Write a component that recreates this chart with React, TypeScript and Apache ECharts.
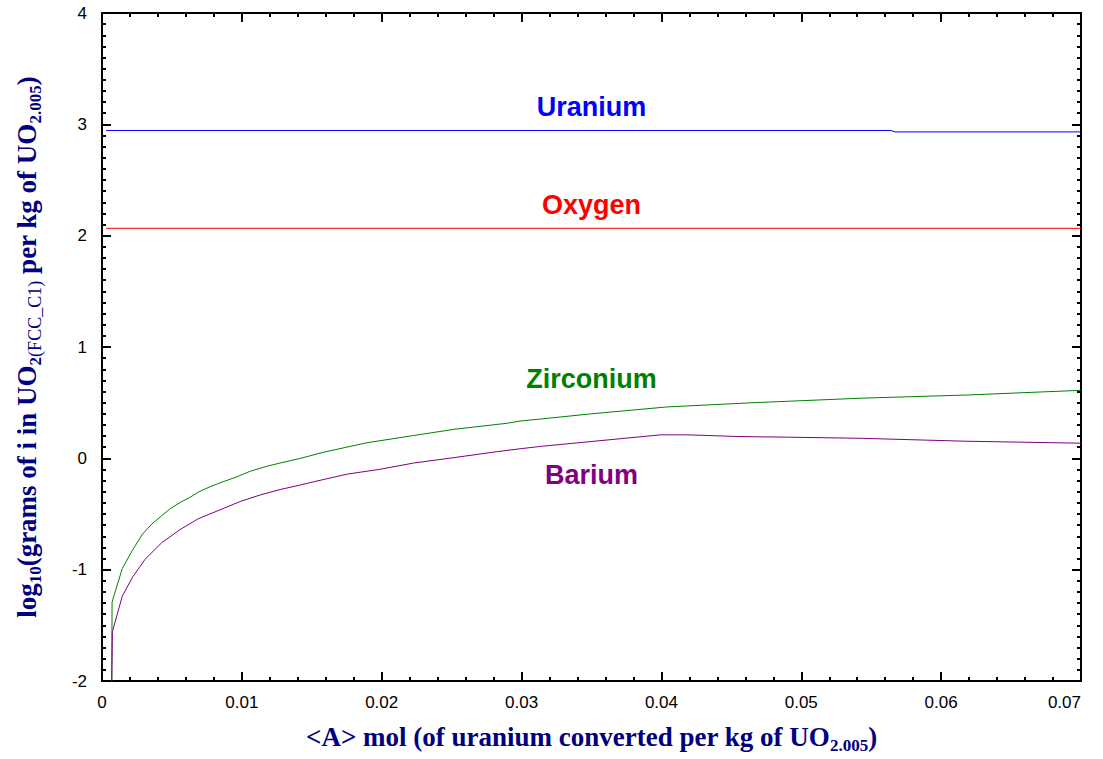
import React, { useEffect, useRef } from "react";
import * as echarts from "echarts";

// x values: mol of uranium converted per kg of UO2.005
const uraniumX = [0.0003, 0.0564, 0.0567, 0.07];
const uraniumY = [2.945, 2.945, 2.932, 2.932];

const oxygenX = [0.0003, 0.07];
const oxygenY = [2.066, 2.066];

const zirconiumX = [
  0.0007, 0.00072, 0.00145, 0.0022, 0.0029, 0.00356, 0.00422, 0.00487, 0.00558,
  0.00625, 0.00694, 0.00773, 0.00845, 0.00964, 0.0106, 0.0118, 0.0128, 0.0142,
  0.01584, 0.01895, 0.02229, 0.02515, 0.02897, 0.0299, 0.03135, 0.035, 0.04042,
  0.04662, 0.05426, 0.0619, 0.07,
];
const zirconiumY = [
  -2.0, -1.29, -0.99, -0.82, -0.68, -0.59, -0.52, -0.453, -0.397, -0.353, -0.3,
  -0.255, -0.22, -0.166, -0.116, -0.071, -0.04, 0.0, 0.055, 0.14, 0.205, 0.26,
  0.315, 0.335, 0.353, 0.4, 0.462, 0.5, 0.54, 0.569, 0.611,
];

const bariumX = [
  0.0007, 0.00074, 0.00145, 0.0022, 0.00308, 0.00427, 0.00558, 0.00689, 0.00845,
  0.00988, 0.01131, 0.01274, 0.01417, 0.01513, 0.01752, 0.0199, 0.02229, 0.02515,
  0.02801, 0.0299, 0.03135, 0.03994, 0.04185, 0.04543, 0.04901, 0.05426, 0.06166,
  0.07,
];
const bariumY = [
  -2.0, -1.558, -1.238, -1.064, -0.907, -0.758, -0.64, -0.542, -0.462, -0.388,
  -0.329, -0.28, -0.24, -0.211, -0.142, -0.098, -0.042, 0.006, 0.056, 0.086,
  0.107, 0.211, 0.211, 0.196, 0.19, 0.18, 0.154, 0.136,
];

// element names and where their names are written (data coordinates)
const labelNames = ["Uranium", "Oxygen", "Zirconium", "Barium"];
const labelX = [0.035, 0.035, 0.035, 0.035];
const labelY = [3.156, 2.276, 0.711, -0.151];
const colors = ["#0000ff", "#ff0000", "#008000", "#800080"];

const X_MIN = 0;
const X_MAX = 0.07;
const X_STEP = 0.01;
const Y_MIN = -2;
const Y_MAX = 4;
const Y_STEP = 1;

const pairs = (xs: number[], ys: number[]) => xs.map((x, i) => [x, ys[i]]);

const NAVY = "#000080";
const SERIF = "'Liberation Serif', 'Times New Roman', serif";
const SANS = "'Liberation Sans', Arial, sans-serif";

const titleRich = {
  m: { fontFamily: SERIF, fontWeight: "bold", fontSize: 27, color: NAVY, lineHeight: 34 },
  s: { fontFamily: SERIF, fontWeight: "bold", fontSize: 17, color: NAVY, verticalAlign: "bottom" },
  n: { fontFamily: SERIF, fontWeight: "normal", fontSize: 18, color: NAVY, verticalAlign: "bottom" },
};

const tickLine = { color: "#000", width: 2 };

const frameAxis = (showLabels: boolean, minorSplit: number) => ({
  axisLine: { show: true, onZero: false, lineStyle: { color: "#000", width: 2 } },
  axisTick: { show: true, inside: true, length: 9, lineStyle: tickLine },
  minorTick: { show: true, splitNumber: minorSplit, length: 4, lineStyle: tickLine },
  splitLine: { show: false },
  minorSplitLine: { show: false },
  axisLabel: {
    show: showLabels,
    color: "#000",
    fontFamily: SANS,
    fontSize: 17,
  },
});

export default function App() {
  const ref = useRef<HTMLDivElement>(null);

  useEffect(() => {
    document.body.style.margin = "0";
    if (!ref.current) return;
    const chart = echarts.init(ref.current, null, { renderer: "svg" });

    const xBase = { type: "value", min: X_MIN, max: X_MAX, interval: X_STEP };
    const yBase = { type: "value", min: Y_MIN, max: Y_MAX, interval: Y_STEP };

    const line = (name: string, xs: number[], ys: number[], color: string) => ({
      name,
      type: "line",
      data: pairs(xs, ys),
      showSymbol: false,
      symbol: "none",
      lineStyle: { color, width: 1 },
      itemStyle: { color },
      xAxisIndex: 0,
      yAxisIndex: 0,
      z: 2,
    });

    const xFrame = frameAxis(true, 5);
    const yFrame = frameAxis(true, 10);

    chart.setOption({
      animation: false,
      backgroundColor: "#ffffff",
      grid: { left: 102, top: 13, width: 979, height: 675, containLabel: false },
      xAxis: [
        {
          ...xBase,
          position: "bottom",
          ...xFrame,
          axisLabel: { ...xFrame.axisLabel, margin: 13, alignMaxLabel: "right" },
          name: "{m|<A> mol (of uranium converted per kg of UO}{s|2.005}{m|)}",
          nameLocation: "middle",
          nameGap: 39,
          nameTextStyle: { rich: titleRich },
        },
        {
          ...xBase,
          position: "top",
          ...frameAxis(false, 5),
        },
      ],
      yAxis: [
        {
          ...yBase,
          position: "left",
          ...yFrame,
          axisLabel: { ...yFrame.axisLabel, margin: 15 },
          name:
            "{m|log}{s|10}{m|(grams of i in UO}{s|2}{n|(FCC_C1)}{m| per kg of UO}{s|2.005}{m|)}",
          nameLocation: "middle",
          nameRotate: 90,
          nameGap: 58,
          nameTextStyle: { rich: titleRich },
        },
        {
          ...yBase,
          position: "right",
          ...frameAxis(false, 10),
        },
      ],
      series: [
        line("Uranium", uraniumX, uraniumY, colors[0]),
        line("Oxygen", oxygenX, oxygenY, colors[1]),
        line("Zirconium", zirconiumX, zirconiumY, colors[2]),
        line("Barium", bariumX, bariumY, colors[3]),
      ],
    });

    // element names placed through the axes' own scales
    const texts = labelNames.map((name, i) => {
      const [px, py] = chart.convertToPixel({ xAxisIndex: 0, yAxisIndex: 0 }, [
        labelX[i],
        labelY[i],
      ]) as number[];
      return {
        type: "text",
        x: px,
        y: py,
        z: 10,
        style: {
          text: name,
          fill: colors[i],
          font: `bold 27px ${SANS}`,
          align: "center",
          verticalAlign: "middle",
        },
      };
    });
    chart.setOption({ graphic: texts });

    return () => chart.dispose();
  }, []);

  return <div ref={ref} style={{ width: 1103, height: 759 }} />;
}
